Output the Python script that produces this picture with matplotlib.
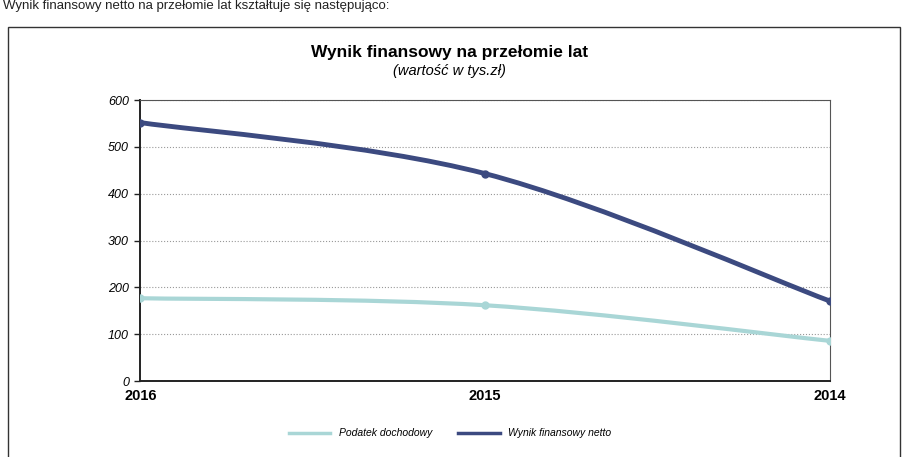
import numpy as np
import matplotlib.pyplot as plt
from matplotlib.path import Path
from matplotlib.patches import PathPatch, Rectangle
from matplotlib.lines import Line2D

years = ['2016', '2015', '2014']
podatek = [177, 162, 86]
wynik = [552, 443, 171]

col_podatek = '#a9d6d6'
col_wynik = '#3c4a80'

plt.rcParams['font.family'] = ['Liberation Sans', 'DejaVu Sans']


def smooth_path(xs, ys):
    # excel-like smoothed line: cubic bezier segments through the points
    pts = np.column_stack([xs, ys]).astype(float)
    ext = np.vstack([pts[0], pts, pts[-1]])
    verts = [pts[0]]
    codes = [Path.MOVETO]
    for i in range(len(pts) - 1):
        p0, p1, p2, p3 = ext[i], ext[i + 1], ext[i + 2], ext[i + 3]
        c1 = p1 + (p2 - p0) / 6.0
        c2 = p2 - (p3 - p1) / 6.0
        verts += [c1, c2, p2]
        codes += [Path.CURVE4] * 3
    return Path(verts, codes)


fig = plt.figure(figsize=(9.05, 4.57), dpi=100)
fig.patch.set_facecolor('white')

# page text above the chart frame
fig.text(0.003, 0.999, 'Wynik finansowy netto na przełomie lat kształtuje się następująco:',
         fontsize=9.5, ha='left', va='top', color='#222222')
# chart frame
fig.add_artist(Rectangle((0.009, -0.01), 0.985, 0.95, transform=fig.transFigure,
                         fill=False, edgecolor='#333333', linewidth=1.0))

ax = fig.add_axes([0.155, 0.166, 0.762, 0.615])
xs = np.arange(len(years))

for vals, col, lw in [(podatek, col_podatek, 3.0), (wynik, col_wynik, 3.5)]:
    ax.add_patch(PathPatch(smooth_path(xs, vals), facecolor='none', edgecolor=col,
                           linewidth=lw, capstyle='round', zorder=3))
    ax.plot(xs, vals, 'o', color=col, markersize=5, zorder=4)

ax.set_xlim(0, 2)
ax.set_ylim(0, 600)
ax.set_yticks(range(0, 700, 100))
ax.set_xticks(xs)
ax.set_xticklabels(years, fontweight='bold', fontsize=10.5)
for lbl in ax.get_yticklabels():
    lbl.set_fontstyle('italic')
    lbl.set_fontsize(9)
ax.tick_params(axis='y', length=4, width=1, color='#222222', pad=4)
ax.tick_params(axis='x', length=0, pad=6)
ax.yaxis.grid(True, linestyle=':', color='#999999', linewidth=0.8)
for s in ['left', 'bottom']:
    ax.spines[s].set_linewidth(1.4)
    ax.spines[s].set_color('#222222')
for s in ['top', 'right']:
    ax.spines[s].set_linewidth(0.8)
    ax.spines[s].set_color('#555555')

fig.text(0.497, 0.885, 'Wynik finansowy na przełomie lat', fontsize=12.5,
         fontweight='bold', ha='center', va='center')
fig.text(0.497, 0.845, '(wartość w tys.zł)', fontsize=10.5, fontstyle='italic',
         ha='center', va='center')

handles = [Line2D([], [], color=col_podatek, lw=2.5),
           Line2D([], [], color=col_wynik, lw=2.5)]
fig.legend(handles, ['Podatek dochodowy', 'Wynik finansowy netto'],
           loc='center', bbox_to_anchor=(0.497, 0.052), ncol=2, frameon=False,
           prop={'style': 'italic', 'size': 7.5}, handlelength=4, columnspacing=2.5)

fig.savefig('out.png', dpi=100)
